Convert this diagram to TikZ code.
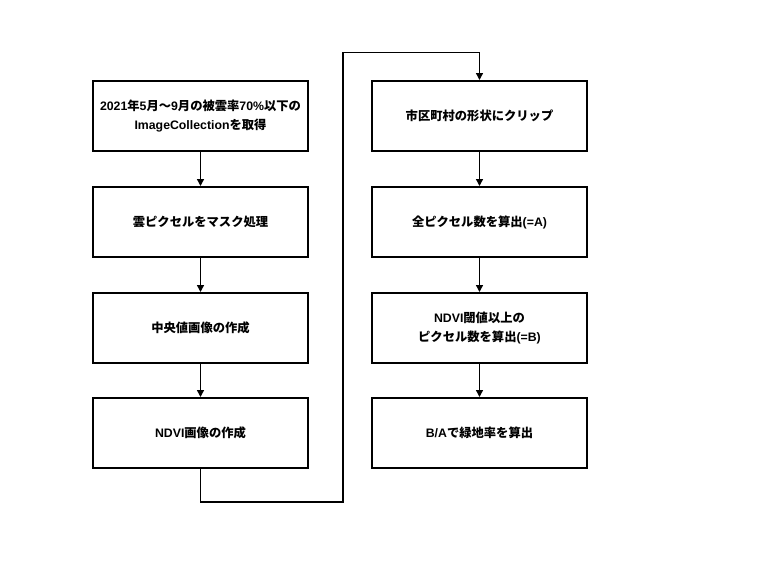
\documentclass[tikz,border=0pt]{standalone}
\usepackage{fontspec}
\setmainfont{Liberation Sans}
\newfontfamily\jpfont{Noto Sans CJK JP}
\newcommand{\J}[1]{{\jpfont #1}}
\usetikzlibrary{arrows.meta}
\begin{document}
\begin{tikzpicture}[x=1pt,y=-1pt,
  procbox/.style={draw=black,line width=2pt,minimum width=215pt,minimum height=70pt,
    align=center,font=\bfseries\fontsize{12.3}{18.5}\selectfont,inner sep=0pt},
  conn/.style={draw=black,line width=1.4pt,-{Triangle[length=7pt,width=7pt]}}]
\useasboundingbox (0,0) rectangle (768,576);
\node[procbox] (a1) at (200.5,116) {2021\J{年}5\J{月〜}9\J{月の被雲率}70\%\J{以下の}\\ImageCollection\J{を取得}};
\node[procbox] (a2) at (200.5,222) {\J{雲ピクセルをマスク処理}};
\node[procbox] (a3) at (200.5,328) {\J{中央値画像の作成}};
\node[procbox] (a4) at (200.5,433) {NDVI\J{画像の作成}};
\node[procbox] (b1) at (479.5,116) {\J{市区町村の形状にクリップ}};
\node[procbox] (b2) at (479.5,222) {\J{全ピクセル数を算出}(=A)};
\node[procbox] (b3) at (479.5,328) {NDVI\J{閾値以上の}\\\J{ピクセル数を算出}(=B)};
\node[procbox] (b4) at (479.5,433) {B/A\J{で緑地率を算出}};
\coordinate (t1) at (200.5,502);
\coordinate (t2) at (343,502);
\coordinate (t3) at (343,52.5);
\coordinate (t4) at (479.5,52.5);
\draw[conn] (a1) -- (a2);
\draw[conn] (a2) -- (a3);
\draw[conn] (a3) -- (a4);
\draw[conn] (b1) -- (b2);
\draw[conn] (b2) -- (b3);
\draw[conn] (b3) -- (b4);
\draw[conn] (a4.south) -- (t1) -- (t2) -- (t3) -- (t4) -- (b1.north);
\end{tikzpicture}
\end{document}
